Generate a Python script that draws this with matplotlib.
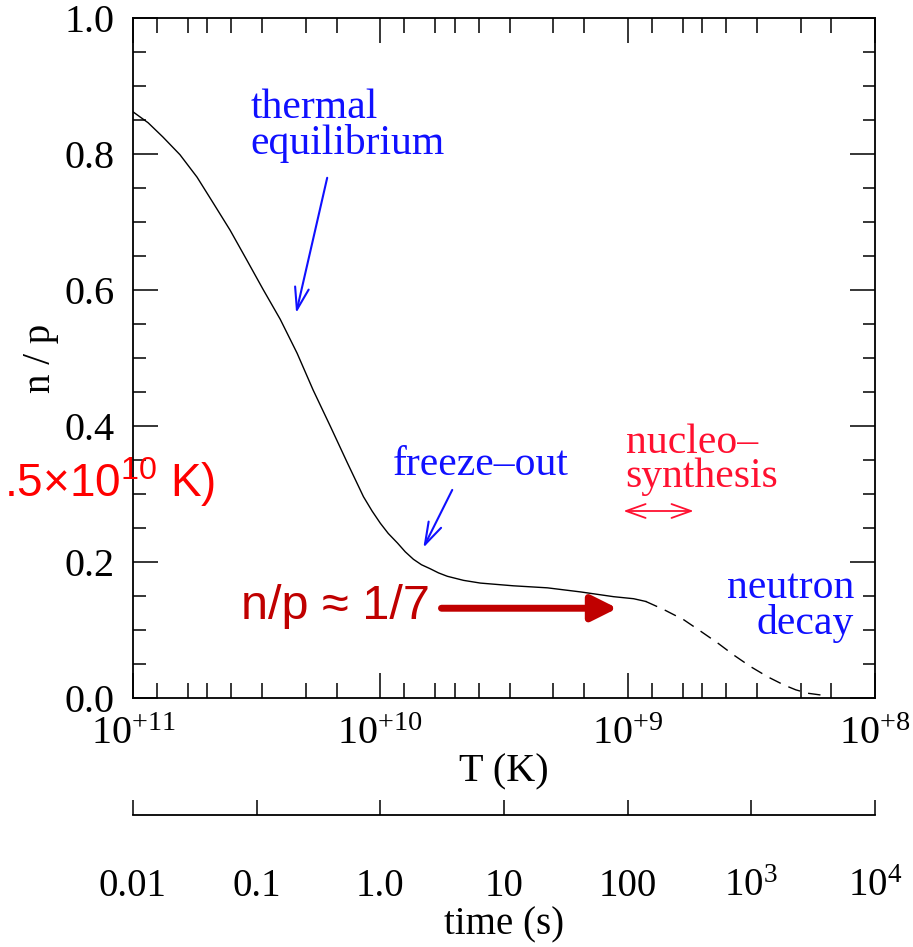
import matplotlib.pyplot as plt
import matplotlib.ticker as mticker

plt.rcParams['font.family'] = ['Liberation Serif', 'DejaVu Serif']
plt.rcParams['mathtext.default'] = 'regular'

# neutron/proton ratio vs temperature
T_weak = [1.0e11, 8.69e10, 7.57e10, 6.46e10, 5.51e10, 4.74e10, 4.05e10, 3.49e10,
          2.98e10, 2.54e10, 2.17e10, 1.87e10, 1.59e10, 1.36e10, 1.17e10, 1.08e10,
          1.0e10, 9.29e9, 8.53e9, 7.93e9, 7.35e9, 6.82e9, 6.28e9, 5.82e9, 5.36e9,
          4.61e9, 3.94e9, 2.90e9, 2.11e9, 1.55e9, 1.14e9, 9.46e8, 8.45e8]
np_weak = [0.862, 0.846, 0.825, 0.799, 0.766, 0.728, 0.688, 0.646,
           0.601, 0.557, 0.507, 0.453, 0.399, 0.346, 0.296, 0.275,
           0.257, 0.242, 0.228, 0.215, 0.204, 0.196, 0.190, 0.184, 0.179,
           0.173, 0.169, 0.165, 0.162, 0.156, 0.149, 0.146, 0.142]

# neutron decay part (dashed)
T_decay = [8.45e8, 7.14e8, 5.93e8, 5.06e8, 4.33e8, 3.72e8, 3.18e8, 2.71e8,
           2.33e8, 2.09e8, 1.87e8, 1.55e8]
np_decay = [0.142, 0.130, 0.115, 0.098, 0.081, 0.063, 0.046, 0.031,
            0.019, 0.012, 0.007, 0.003]

T_ticks = [1e11, 1e10, 1e9, 1e8]
T_labels = ['$10^{+11}$', '$10^{+10}$', '$10^{+9}$', '$10^{+8}$']
time_ticks = [0.01, 0.1, 1, 10, 100, 1e3, 1e4]
time_labels = ['0.01', '0.1', '1.0', '10', '100', '$10^3$', '$10^4$']

W, H = 913, 947
fig = plt.figure(figsize=(W / 100, H / 100), dpi=100)
ax = fig.add_axes([133 / W, 1 - 698 / H, 742 / W, 680 / H])

ax.plot(T_weak, np_weak, color='black', lw=1.0)
ax.plot(T_decay, np_decay, color='black', lw=1.0, linestyle=(0, (9, 6)))

ax.set_xscale('log')
ax.set_xlim(1e11, 1e8)
ax.set_ylim(0, 1.0)
ax.set_xticks(T_ticks)
ax.set_xticklabels(T_labels)
ax.xaxis.set_minor_locator(mticker.LogLocator(base=10, subs=[1.5, 2, 3, 4, 5, 6, 8]))
ax.xaxis.set_minor_formatter(mticker.NullFormatter())
ax.set_yticks([0, 0.2, 0.4, 0.6, 0.8, 1.0])
ax.set_yticklabels(['0.0', '0.2', '0.4', '0.6', '0.8', '1.0'])
ax.yaxis.set_minor_locator(mticker.MultipleLocator(0.05))

for s in ax.spines.values():
    s.set_linewidth(1.3)
ax.tick_params(which='both', direction='in', top=True, right=True, width=1.1)
ax.tick_params(axis='x', which='major', length=18, pad=13, labelsize=29)
ax.tick_params(axis='x', which='minor', length=11)
ax.tick_params(axis='y', which='major', length=18, pad=13, labelsize=29)
ax.tick_params(axis='y', which='minor', length=9)

ax.set_xlabel('T (K)', fontsize=29, labelpad=0)
ax.set_ylabel('n / p', fontsize=28, labelpad=4)

# annotations
blue = '#1010ff'
ax.text(0.158, 0.897, 'thermal\nequilibrium', transform=ax.transAxes, color=blue,
        fontsize=30, ha='left', va='top', linespacing=0.9)
ax.annotate('', xy=(2.19e10, 0.566), xytext=(1.64e10, 0.765),
            arrowprops=dict(arrowstyle='->,head_length=0.8,head_width=0.25', color=blue,
                            lw=1.5, mutation_scale=20, shrinkA=0, shrinkB=0))

ax.text(0.350, 0.328, 'freeze–out', transform=ax.transAxes, color=blue,
        fontsize=30, ha='left', va='baseline')
ax.annotate('', xy=(6.70e9, 0.221), xytext=(5.12e9, 0.306),
            arrowprops=dict(arrowstyle='->,head_length=0.8,head_width=0.25', color=blue,
                            lw=1.5, mutation_scale=20, shrinkA=0, shrinkB=0))

red = '#ff1030'
ax.text(0.664, 0.404, 'nucleo–\nsynthesis', transform=ax.transAxes, color=red,
        fontsize=30, ha='left', va='top', linespacing=0.85)
ax.annotate('', xy=(5.41e8, 0.275), xytext=(1.04e9, 0.275),
            arrowprops=dict(arrowstyle='<->,head_length=0.7,head_width=0.25', color=red,
                            lw=1.3, mutation_scale=20, shrinkA=0, shrinkB=0))

ax.text(0.972, 0.190, 'neutron\ndecay', transform=ax.transAxes, color=blue,
        fontsize=30, ha='right', va='top', multialignment='right', linespacing=0.9)

dark_red = '#c00000'
ax.text(0.1456, 0.134, 'n/p ≈ 1/7', transform=ax.transAxes, color=dark_red,
        fontsize=35, ha='left', va='center', family=['Liberation Sans', 'DejaVu Sans'])
ax.annotate('', xy=(1.10e9, 0.132), xytext=(5.66e9, 0.132),
            arrowprops=dict(arrowstyle='-|>,head_length=0.7,head_width=0.35', color=dark_red,
                            lw=5, mutation_scale=22, shrinkA=0, shrinkB=0))

# label clipped at the left edge, as in the original slide
fig.text(215 / W, 1 - 482 / H, '.5×10$^{10}$ K)', color='#ff0000', fontsize=33,
         ha='right', va='center', family=['Liberation Sans', 'DejaVu Sans'])

# time axis underneath
ax2 = fig.add_axes([133 / W, 1 - 815 / H, 742 / W, 0.02])
ax2.patch.set_visible(False)
for side in ['top', 'left', 'right']:
    ax2.spines[side].set_visible(False)
ax2.spines['bottom'].set_linewidth(1.3)
ax2.set_xscale('log')
ax2.set_xlim(0.01, 1e4)
ax2.set_xticks(time_ticks)
ax2.set_xticklabels(time_labels)
ax2.xaxis.set_minor_locator(mticker.NullLocator())
ax2.set_yticks([])
ax2.tick_params(axis='x', direction='in', length=11, width=1.1, labelsize=28, pad=38)
ax2.set_xlabel('time (s)', fontsize=28, labelpad=1)

fig.savefig('out.png', dpi=100)
